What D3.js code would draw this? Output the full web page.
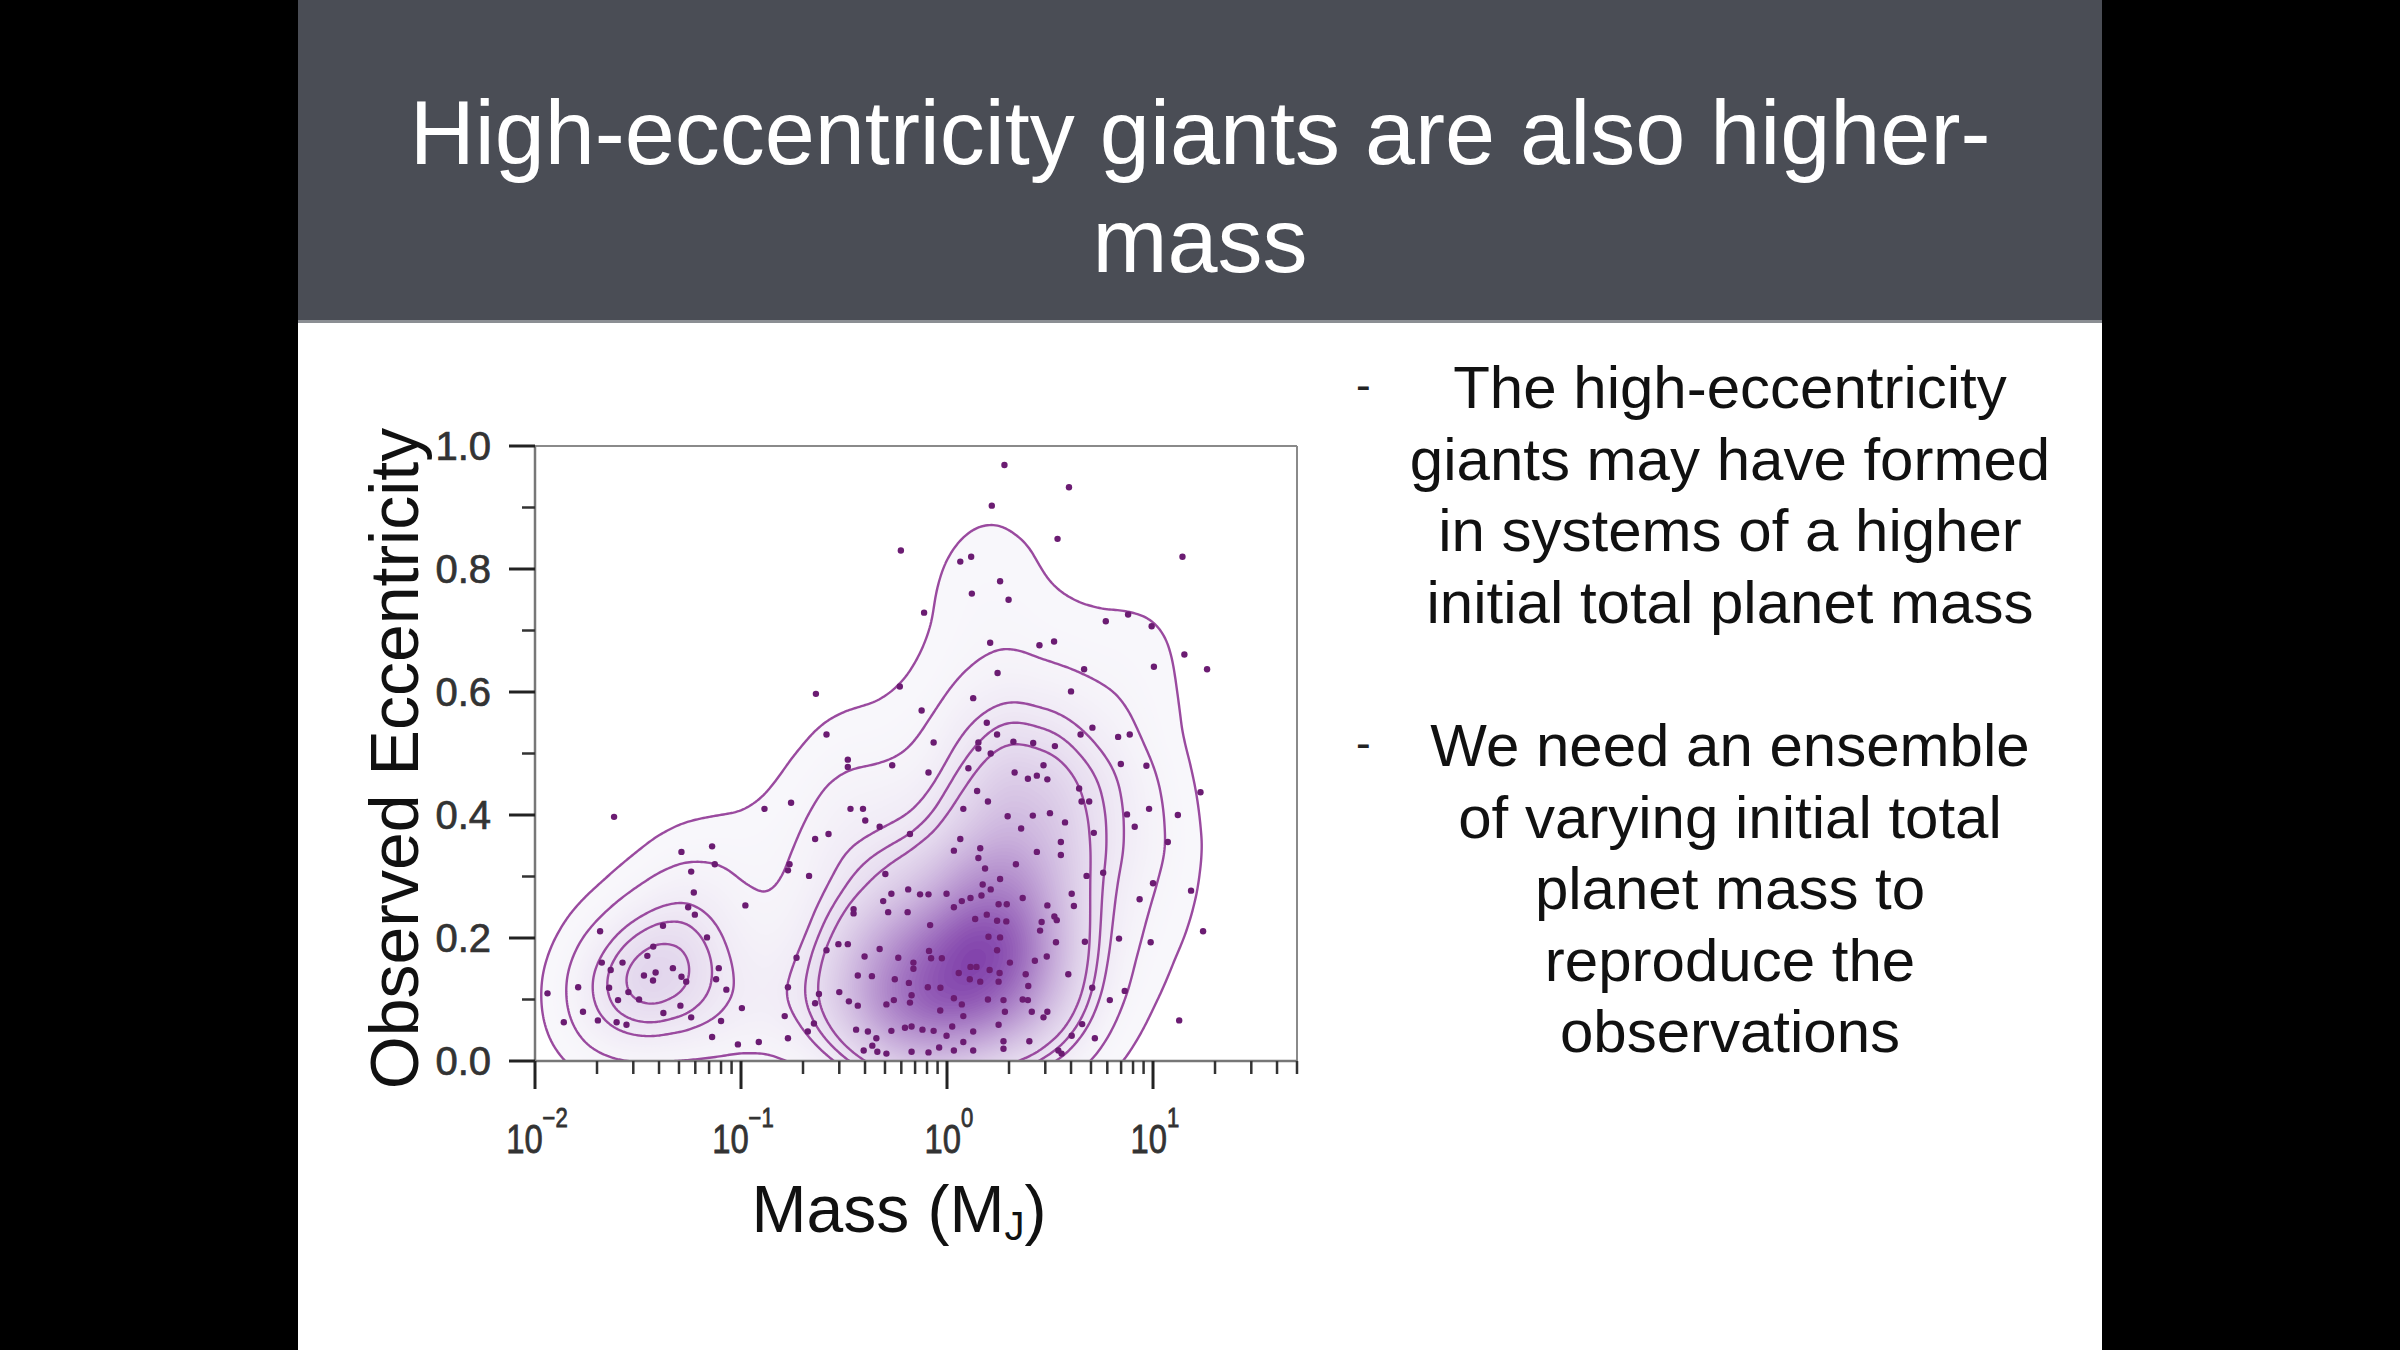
<!DOCTYPE html>
<html><head><meta charset="utf-8">
<script src="https://cdn.jsdelivr.net/npm/d3@7"></script>
<style>html,body{margin:0;padding:0;background:#000;}svg{display:block;}</style>
</head><body>
<svg id="c" width="2400" height="1350"></svg>
<script>
// ---------------- data ----------------
const titleLines = ["High-eccentricity giants are also higher-", "mass"];
const bullet1 = ["The high-eccentricity", "giants may have formed", "in systems of a higher", "initial total planet mass"];
const bullet2 = ["We need an ensemble", "of varying initial total", "planet mass to", "reproduce the", "observations"];
const yTicks = [0, 0.2, 0.4, 0.6, 0.8, 1.0];
const yMinorTicks = [0.1, 0.3, 0.5, 0.7, 0.9];
const xMajorTicks = [0.01, 0.1, 1, 10];
const xMajorExp = ["\u22122", "\u22121", "0", "1"];
const xMinorTicks = [0.02,0.03,0.04,0.05,0.06,0.07,0.08,0.09,0.2,0.3,0.4,0.5,0.6,0.7,0.8,0.9,2,3,4,5,6,7,8,9,20,30,40,50];

// low-mass group (mass in M_J, eccentricity)
const massLow = [0.0242,0.0514,0.0724,0.0573,0.0746,0.059,0.0554,0.0597,0.0207,0.0418,0.0684,0.0375,0.0351,0.0211,0.0233,0.0266,0.0338,0.0385,0.0374,0.0467,0.0514,0.0542,0.078,0.0757,0.0849,0.0229,0.0284,0.032,0.0253,0.0162,0.0115,0.0508,0.042,0.0171,0.0202,0.0249,0.0278,0.0573,0.080,0.0138,0.0724,0.0966];
const eccLow  = [0.397,0.340,0.349,0.308,0.320,0.274,0.250,0.238,0.211,0.220,0.201,0.186,0.171,0.160,0.148,0.160,0.139,0.144,0.131,0.151,0.137,0.129,0.151,0.133,0.116,0.119,0.112,0.100,0.099,0.120,0.110,0.090,0.078,0.080,0.066,0.063,0.059,0.071,0.065,0.063,0.039,0.027];
// sub-Jupiter group
const massMid = [0.597,0.774,0.231,0.590,0.753,0.260,0.861,0.330,0.330,0.542,0.813,0.130,0.175,0.340,0.391,0.401,0.471,0.229,0.266,0.661,0.172,0.169,0.214,0.502,0.105,0.352,0.352,0.490,0.537,0.648,0.740,0.813,0.518,0.644,0.828,0.995,0.186,0.260,0.297,0.330,0.398,0.471,0.580,0.687,0.818,0.837,0.944,0.369,0.432,0.558,0.653,0.687,0.807,0.169,0.101,0.239,0.229,0.300,0.334,0.369,0.508,0.552,0.673,0.661,0.927,0.163,0.226,0.211,0.169,0.362,0.413,0.454,0.537,0.625,0.673,0.760,0.861,0.995,0.394,0.434,0.459,0.508,0.673,0.813,0.916,0.122];
const eccMid  = [0.830,0.729,0.597,0.609,0.570,0.531,0.518,0.490,0.478,0.481,0.469,0.410,0.420,0.410,0.410,0.391,0.381,0.361,0.369,0.369,0.320,0.310,0.301,0.304,0.253,0.247,0.240,0.260,0.272,0.279,0.271,0.271,0.242,0.242,0.221,0.272,0.168,0.180,0.190,0.190,0.170,0.182,0.168,0.160,0.179,0.167,0.167,0.139,0.138,0.133,0.127,0.150,0.120,0.120,0.086,0.109,0.094,0.112,0.097,0.090,0.092,0.099,0.107,0.095,0.082,0.073,0.061,0.048,0.037,0.051,0.048,0.037,0.049,0.054,0.056,0.051,0.049,0.041,0.017,0.025,0.015,0.012,0.015,0.014,0.022,0.031];
// super-Jupiter group
const massHigh = [1.90,3.91,1.65,3.44,1.16,1.31,1.81,1.32,1.99,1.62,2.81,3.31,5.90,7.57,1.76,4.63,4.00,1.34,1.56,1.75,1.42,1.42,2.10,2.62,3.34,4.45,5.08,6.77,7.71,1.63,1.27,2.13,2.47,2.73,3.07,2.94,4.38,4.50,4.90,6.98,1.40,1.58,1.20,1.97,2.29,2.61,3.16,3.74,5.16,7.48,8.15,1.16,1.45,1.42,1.08,2.73,3.57,3.57,1.53,2.16,1.81,1.49,4.76,5.73,1.08,1.18,1.30,1.47,1.63,1.78,1.95,2.33,1.37,1.56,1.75,1.94,1.59,1.81,3.07,3.32,3.41,2.88,4.03,4.13,2.83,3.38,4.67,6.84,1.30,1.39,1.14,1.29,1.45,1.61,1.80,1.78,2.02,2.41,2.48,2.67,3.05,3.88,5.07,6.17,7.29,0.929,1.08,1.18,1.20,1.58,1.88,1.91,2.33,2.47,2.58,2.94,3.07,1.06,1.34,1.78,1.08,1.20,1.34,1.88,1.88,2.51,3.47,3.60,4.03,4.53,5.22,1.75];
const eccHigh  = [0.969,0.933,0.903,0.849,0.812,0.820,0.780,0.760,0.750,0.680,0.676,0.682,0.715,0.726,0.631,0.637,0.601,0.590,0.550,0.531,0.518,0.508,0.519,0.517,0.512,0.531,0.542,0.527,0.531,0.500,0.476,0.469,0.459,0.464,0.458,0.481,0.443,0.422,0.422,0.483,0.439,0.422,0.410,0.398,0.378,0.399,0.403,0.388,0.371,0.401,0.381,0.361,0.346,0.330,0.342,0.340,0.356,0.335,0.313,0.320,0.296,0.287,0.301,0.306,0.250,0.260,0.265,0.269,0.279,0.255,0.255,0.265,0.231,0.238,0.228,0.227,0.202,0.201,0.253,0.235,0.229,0.226,0.272,0.252,0.212,0.193,0.194,0.199,0.153,0.153,0.143,0.133,0.129,0.148,0.143,0.129,0.160,0.141,0.122,0.163,0.170,0.141,0.119,0.099,0.114,0.119,0.102,0.092,0.073,0.100,0.099,0.080,0.100,0.099,0.080,0.071,0.080,0.056,0.048,0.059,0.017,0.031,0.017,0.032,0.020,0.032,0.017,0.012,0.041,0.060,0.037,0.180];
// very massive group
const massVHigh = [13.9,9.85,14.2,10.1,18.3,9.29,17.0,9.57,13.2,11.8,10.0,8.61,15.3,17.5,9.74,13.4];
const eccVHigh  = [0.820,0.707,0.661,0.641,0.637,0.480,0.437,0.410,0.400,0.356,0.289,0.263,0.277,0.211,0.193,0.066];

// ---------------- layout ----------------
const svg = d3.select("#c");
const W = 2400, H = 1350;
const slideL = 298, slideR = 2102, barH = 323;
const PX0 = 535, PX1 = 1297, PY0 = 1061, PY1 = 446;

svg.append("rect").attr("width", W).attr("height", H).attr("fill", "#000");
svg.append("rect").attr("x", slideL).attr("y", 0).attr("width", slideR - slideL).attr("height", H).attr("fill", "#fff");
svg.append("rect").attr("x", slideL).attr("y", 0).attr("width", slideR - slideL).attr("height", barH).attr("fill", "#4a4d55");
svg.append("rect").attr("x", slideL).attr("y", barH - 3).attr("width", slideR - slideL).attr("height", 3).attr("fill", "#8b8e93");

const FONT = "'Liberation Sans', Arial, Helvetica, sans-serif";
svg.append("g").selectAll("text").data(titleLines).join("text")
  .attr("x", 1200).attr("y", (d, i) => 164 + i * 108)
  .attr("text-anchor", "middle").attr("fill", "#fff")
  .attr("font-family", FONT).attr("font-size", 90).text(d => d);

function bullet(lines, y0) {
  const g = svg.append("g");
  g.append("text").attr("x", 1356).attr("y", y0 - 8).attr("font-family", FONT).attr("font-size", 44).attr("fill", "#222").text("-");
  g.selectAll("text.l").data(lines).join("text").attr("class", "l")
    .attr("x", 1730).attr("y", (d, i) => y0 + i * 71.5)
    .attr("text-anchor", "middle").attr("font-family", FONT).attr("font-size", 60).attr("fill", "#111").text(d => d);
}
bullet(bullet1, 408);
bullet(bullet2, 766);

// ---------------- scales ----------------
const x = d3.scaleLog().domain([0.01, 50]).range([PX0, PX1]);
const y = d3.scaleLinear().domain([0, 1]).range([PY0, PY1]);

const pts = [];
[[massLow, eccLow], [massMid, eccMid], [massHigh, eccHigh], [massVHigh, eccVHigh]].forEach(([m, e]) => m.forEach((v, i) => pts.push([v, e[i]])));

// ---------------- density (wider kernel along eccentricity: y squeezed by k) ----------------
const pad = 200, k = 0.72;
const dens = d3.contourDensity()
  .x(d => x(d[0]) - PX0 + pad).y(d => (y(d[1]) - PY1 + pad) * k)
  .size([PX1 - PX0 + 2 * pad, Math.ceil((PY0 - PY1 + 2 * pad) * k)]).cellSize(2).bandwidth(40);
const probe = dens.thresholds(400)(pts);
const maxV = d3.max(probe, d => d.value) * 1.005;

// find the low-mass lobe: saddle level (where it splits off) and its peak
const fine = dens.thresholds(d3.range(1, 400).map(i => maxV * i / 400))(pts);
const xSplit = x(0.2) - PX0 + pad;
let saddle = null, leftPeak = null;
fine.forEach(c => {
  const sep = c.coordinates.some(poly => d3.max(poly[0], p => p[0]) < xSplit);
  if (sep) { if (saddle === null) saddle = c.value; leftPeak = c.value; }
});
let lineLevels;
if (saddle !== null && leftPeak > saddle) {
  const r = leftPeak - saddle;
  lineLevels = [saddle * 0.41, saddle * 0.72, saddle + 0.15 * r, saddle + 0.47 * r, saddle + 0.8 * r];
} else {
  lineLevels = [0.05, 0.12, 0.18, 0.24, 0.3].map(f => f * maxV);
}

svg.append("defs").append("clipPath").attr("id", "plotclip").append("rect")
  .attr("x", PX0).attr("y", PY1).attr("width", PX1 - PX0).attr("height", PY0 - PY1);
const plot = svg.append("g").attr("clip-path", "url(#plotclip)");
const cg = plot.append("g").attr("transform", `translate(${PX0 - pad},${PY1 - pad}) scale(1,${1 / k})`);
const path = d3.geoPath();

const base = lineLevels[0];
const nShade = 80;
const shadeLevels = d3.range(0, nShade).map(i => base + (maxV - base) * i / nShade);
const shadeColor = d3.interpolateRgb("#f8f7fb", "#8040aa");
cg.append("g").selectAll("path").data(dens.thresholds(shadeLevels)(pts)).join("path")
  .attr("d", path).attr("fill", d => shadeColor(Math.pow((d.value - base) / (maxV - base), 1.9)));

cg.append("g").selectAll("path").data(dens.thresholds(lineLevels)(pts)).join("path")
  .attr("d", path).attr("fill", "none").attr("stroke", "#9a4a9f").attr("stroke-width", 2.4)
  .attr("vector-effect", "non-scaling-stroke");

// points
plot.append("g").selectAll("circle").data(pts).join("circle")
  .attr("cx", d => x(d[0])).attr("cy", d => y(d[1])).attr("r", 3.2).attr("fill", "#6b1c72");

// frame
svg.append("line").attr("x1", PX0).attr("x2", PX1).attr("y1", PY1).attr("y2", PY1).attr("stroke", "#8a8a8a").attr("stroke-width", 2);
svg.append("line").attr("x1", PX1).attr("x2", PX1).attr("y1", PY1).attr("y2", PY0).attr("stroke", "#8a8a8a").attr("stroke-width", 2);

// y axis
const yAx = svg.append("g").attr("transform", `translate(${PX0},0)`);
yAx.append("line").attr("y1", PY1).attr("y2", PY0).attr("stroke", "#777").attr("stroke-width", 2.5);
yAx.selectAll("line.maj").data(yTicks).join("line").attr("class", "maj")
  .attr("x1", -26).attr("x2", 0).attr("y1", d => y(d)).attr("y2", d => y(d)).attr("stroke", "#222").attr("stroke-width", 3);
yAx.selectAll("line.min").data(yMinorTicks).join("line").attr("class", "min")
  .attr("x1", -13).attr("x2", 0).attr("y1", d => y(d)).attr("y2", d => y(d)).attr("stroke", "#333").attr("stroke-width", 2.5);
yAx.selectAll("text").data(yTicks).join("text")
  .attr("x", -44).attr("y", d => y(d)).attr("dy", "0.36em").attr("text-anchor", "end")
  .attr("font-family", FONT).attr("font-size", 40).attr("fill", "#333")
  .attr("stroke", "#333").attr("stroke-width", 0.7).text(d => d3.format(".1f")(d));

// x axis
const xAx = svg.append("g").attr("transform", `translate(0,${PY0})`);
xAx.append("line").attr("x1", PX0).attr("x2", PX1).attr("stroke", "#777").attr("stroke-width", 2.5);
xAx.selectAll("line.maj").data(xMajorTicks).join("line").attr("class", "maj")
  .attr("x1", d => x(d)).attr("x2", d => x(d)).attr("y1", 0).attr("y2", 28).attr("stroke", "#222").attr("stroke-width", 3);
xAx.selectAll("line.min").data(xMinorTicks).join("line").attr("class", "min")
  .attr("x1", d => x(d)).attr("x2", d => x(d)).attr("y1", 0).attr("y2", 13).attr("stroke", "#333").attr("stroke-width", 2.5);
const xl = xAx.selectAll("g.lab").data(xMajorTicks).join("g").attr("class", "lab")
  .attr("transform", d => `translate(${x(d) + 2},92) scale(0.82,1)`)
  .append("text").attr("text-anchor", "middle")
  .attr("font-family", FONT).attr("font-size", 40).attr("fill", "#333")
  .attr("stroke", "#333").attr("stroke-width", 0.8);
xl.append("tspan").text("10");
xl.append("tspan").attr("dy", -26).attr("font-size", 27).text((d, i) => xMajorExp[i]);

// axis titles
svg.append("text").attr("transform", `translate(418,${(PY0 + PY1) / 2 + 5}) rotate(-90)`)
  .attr("text-anchor", "middle").attr("font-family", FONT).attr("font-size", 68).attr("fill", "#111")
  .text("Observed Eccentricity");
const xt = svg.append("text").attr("x", 899).attr("y", 1232).attr("text-anchor", "middle")
  .attr("font-family", FONT).attr("font-size", 66).attr("fill", "#111");
xt.append("tspan").text("Mass (M");
xt.append("tspan").attr("font-size", 40).attr("dy", 8).text("J");
xt.append("tspan").attr("dy", -8).text(")");
</script>
</body></html>
